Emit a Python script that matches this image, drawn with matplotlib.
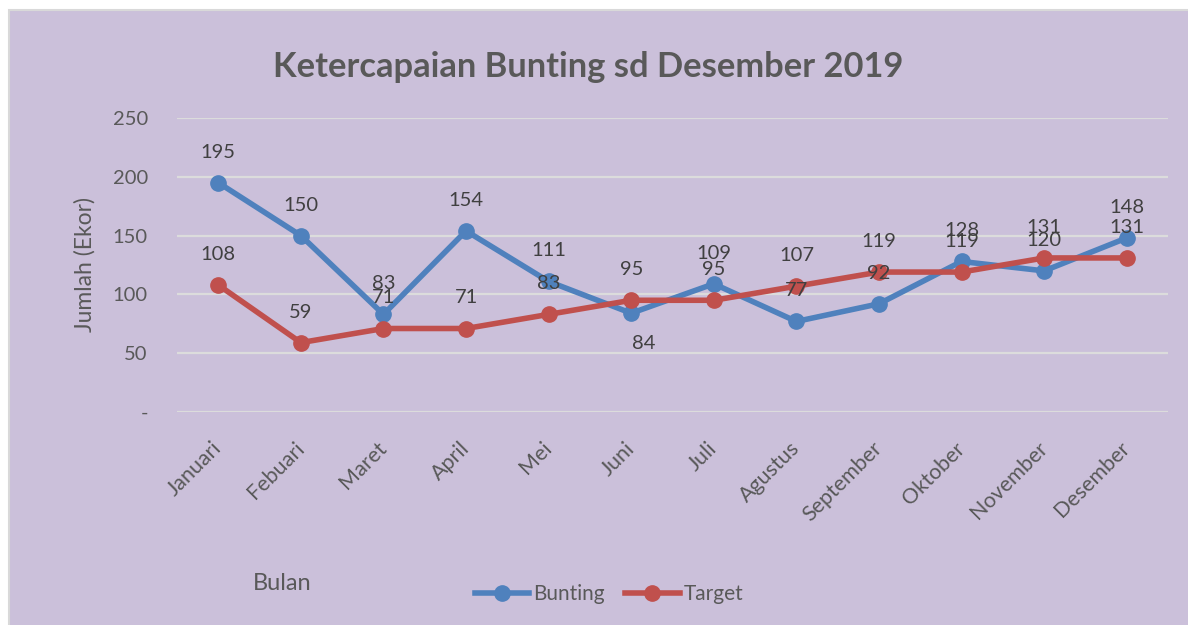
import matplotlib
matplotlib.use("Agg")
import matplotlib.pyplot as plt
from matplotlib.patches import Rectangle

months = ["Januari", "Febuari", "Maret", "April", "Mei", "Juni", "Juli",
          "Agustus", "September", "Oktober", "November", "Desember"]
bunting = [195, 150, 83, 154, 111, 84, 109, 77, 92, 128, 120, 148]
target = [108, 59, 71, 71, 83, 95, 95, 107, 119, 119, 131, 131]
yticks = [0, 50, 100, 150, 200, 250]
ytick_labels = ["-", "50", "100", "150", "200", "250"]

plt.rcParams['font.family'] = ['Lato', 'DejaVu Sans']

W, H = 1188, 625
fig = plt.figure(figsize=(W / 100, H / 100), dpi=100)
fig.patch.set_facecolor("white")
bg = "#CBC0DA"
fig.add_artist(Rectangle((9 / W, -0.01), 1.02, 1 - 10 / H + 0.01, transform=fig.transFigure,
                         facecolor=bg, edgecolor="#D9D9D9", linewidth=1.5, zorder=0))

ax = fig.add_axes([177 / W, 1 - 412 / H, (1168 - 177) / W, (412 - 118) / H])
ax.set_facecolor("none")
x = list(range(len(months)))
blue, red = "#4F81BD", "#C0504D"
ax.plot(x, bunting, color=blue, lw=4, marker="o", ms=11, label="Bunting", zorder=3)
ax.plot(x, target, color=red, lw=4, marker="o", ms=11, label="Target", zorder=3)

ax.set_xlim(-0.5, len(months) - 0.5)
ax.set_ylim(0, 250)
ax.set_yticks(yticks)
ax.set_yticklabels(ytick_labels)
ax.yaxis.grid(True, color="#DCDCDC", lw=1.6)
ax.set_axisbelow(True)
for s in ax.spines.values():
    s.set_visible(False)
ax.tick_params(axis="y", length=0, pad=21, labelsize=14.5, labelcolor="#595959")
ax.tick_params(axis="x", length=0, pad=24, labelsize=15.5, labelcolor="#595959")
ax.set_xticks(x)
ax.set_xticklabels(months, rotation=45, ha="right", va="center", rotation_mode="anchor")

lab_color = "#404040"
for i, v in enumerate(bunting):
    dx, dy = (9, -22) if i == 5 else (0, 22)
    ax.annotate(str(v), (i, v), xytext=(dx, dy), textcoords="offset points",
                ha="center", va="center", fontsize=14.5, color=lab_color, zorder=4)
for i, v in enumerate(target):
    ax.annotate(str(v), (i, v), xytext=(0, 22), textcoords="offset points",
                ha="center", va="center", fontsize=14.5, color=lab_color, zorder=4)

fig.text(85 / W, 1 - 265 / H, "Jumlah (Ekor)", rotation=90, ha="center", va="center",
         fontsize=16.5, color="#595959")
fig.text(282 / W, 1 - 583 / H, "Bulan", ha="center", va="center", fontsize=17, color="#595959")
fig.text(588 / W, 1 - 67 / H, "Ketercapaian Bunting sd Desember 2019", ha="center", va="center",
         fontsize=24.8, fontweight="bold", color="#595959")

leg = fig.legend(loc="center", bbox_to_anchor=(609 / W, 1 - 594 / H), ncol=2, frameon=False,
                 fontsize=15, handlelength=2.6, columnspacing=1.0, handletextpad=0.2)
for t in leg.get_texts():
    t.set_color("#595959")

fig.savefig("out.png", dpi=100, facecolor=fig.get_facecolor())
